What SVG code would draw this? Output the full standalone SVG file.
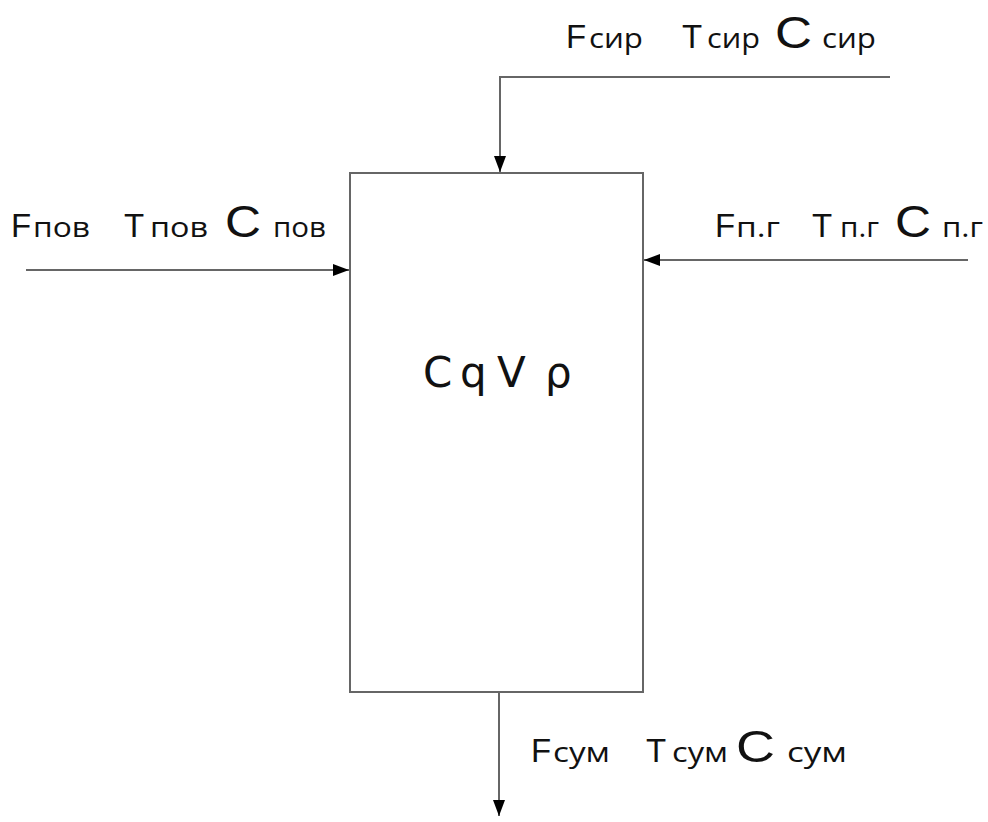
<svg xmlns="http://www.w3.org/2000/svg" width="988" height="822" viewBox="0 0 988 822">
<style>
.ln{stroke:#666;stroke-width:2;fill:none}
.b{font-family:"Liberation Sans",Arial,sans-serif;font-size:33px;fill:#111}
.c{font-family:"Liberation Sans",Arial,sans-serif;font-size:44px;fill:#111}
.s{font-family:"Open Sans","Liberation Sans",sans-serif;font-size:27px;fill:#111}
.m{font-family:"DejaVu Sans","Open Sans",sans-serif;font-size:42px;fill:#111}
</style>
<defs>
<marker id="ah" viewBox="0 0 16 12" refX="16" refY="6" markerWidth="16" markerHeight="12" markerUnits="userSpaceOnUse" orient="auto">
<path d="M0,0 L16,6 L0,12 Z" fill="#000"/>
</marker>
</defs>
<rect width="988" height="822" fill="#fff"/>
<g id="reactor">
<rect x="350" y="173" width="293" height="519" fill="#fff" stroke="#666" stroke-width="2"/>
<text class="m" x="423" y="387">C</text>
<text class="m" x="460" y="387">q</text>
<text class="m" x="497" y="387">V</text>
<text class="m" x="545" y="387">ρ</text>
</g>
<g id="connectors">
<path class="ln" d="M890,77 H500 V172" marker-end="url(#ah)"/>
<path class="ln" d="M26,270 H349" marker-end="url(#ah)"/>
<path class="ln" d="M968,260 H644" marker-end="url(#ah)"/>
<path class="ln" d="M499,692 V816" marker-end="url(#ah)"/>
</g>
<g id="label-top">
<text class="b" x="566" y="48">F</text>
<text class="s" x="589" y="48" textLength="54" lengthAdjust="spacingAndGlyphs">сир</text>
<text class="b" x="682" y="48">T</text>
<text class="s" x="707" y="48" textLength="53" lengthAdjust="spacingAndGlyphs">сир</text>
<text class="c" x="775" y="48" textLength="37" lengthAdjust="spacingAndGlyphs">C</text>
<text class="s" x="822" y="48" textLength="54" lengthAdjust="spacingAndGlyphs">сир</text>
</g>
<g id="label-left">
<text class="b" x="11" y="237">F</text>
<text class="s" x="33" y="237" textLength="57" lengthAdjust="spacingAndGlyphs">пов</text>
<text class="b" x="124" y="237">T</text>
<text class="s" x="150" y="237" textLength="58" lengthAdjust="spacingAndGlyphs">пов</text>
<text class="c" x="225" y="237" textLength="36" lengthAdjust="spacingAndGlyphs">C</text>
<text class="s" x="273" y="237" textLength="53" lengthAdjust="spacingAndGlyphs">пов</text>
</g>
<g id="label-right">
<text class="b" x="715" y="237">F</text>
<text class="s" x="736" y="237" textLength="44" lengthAdjust="spacingAndGlyphs">п.г</text>
<text class="b" x="812" y="237">T</text>
<text class="s" x="840" y="237" textLength="39" lengthAdjust="spacingAndGlyphs">п.г</text>
<text class="c" x="895" y="237" textLength="36" lengthAdjust="spacingAndGlyphs">C</text>
<text class="s" x="942" y="237" textLength="41" lengthAdjust="spacingAndGlyphs">п.г</text>
</g>
<g id="label-bottom">
<text class="b" x="531" y="762">F</text>
<text class="s" x="553" y="762" textLength="57" lengthAdjust="spacingAndGlyphs">сум</text>
<text class="b" x="646" y="762">T</text>
<text class="s" x="672" y="762" textLength="56" lengthAdjust="spacingAndGlyphs">сум</text>
<text class="c" x="736" y="762" textLength="39" lengthAdjust="spacingAndGlyphs">C</text>
<text class="s" x="787" y="762" textLength="60" lengthAdjust="spacingAndGlyphs">сум</text>
</g>
</svg>
